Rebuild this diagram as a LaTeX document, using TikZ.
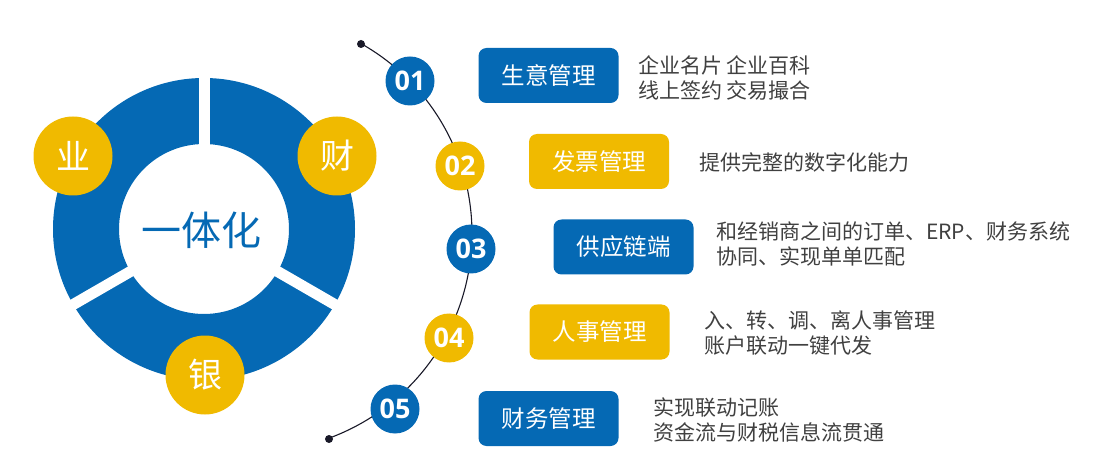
\documentclass[tikz,border=0pt]{standalone}
\usepackage{fontspec}
\setmainfont{Noto Sans CJK SC}
\newfontfamily\numfont{Open Sans}
\definecolor{mblue}{RGB}{5,105,180}
\definecolor{myellow}{RGB}{240,186,0}
\definecolor{dtext}{RGB}{64,64,64}
\definecolor{dotc}{RGB}{25,25,40}
\begin{document}
\begin{tikzpicture}[x=1pt,y=-1pt,
  numc/.style={circle, minimum size=49pt, inner sep=0pt, text=white, font=\numfont\bfseries\fontsize{27}{27}\selectfont},
  catc/.style={circle, fill=myellow, minimum size=79pt, inner sep=0pt, text=white, font=\fontsize{34}{34}\selectfont},
  tbox/.style={rounded corners=8pt, minimum width=140pt, minimum height=55pt, inner sep=0pt, text=white, font=\fontsize{23.5}{23.5}\selectfont},
  desc/.style={anchor=west, align=left, text=dtext, inner sep=0pt, font=\fontsize{21}{25}\selectfont},
  gapline/.style={white, line width=11pt},
  dotn/.style={circle, fill=dotc, minimum size=8pt, inner sep=0pt}
]
\useasboundingbox (0,0) rectangle (1111,470);
% ring
\coordinate (rc) at (204,229);
\fill[mblue, even odd rule] (rc) circle[radius=151pt] (rc) circle[radius=85pt];
\foreach \a in {-90,30,150} \draw[gapline] (rc) -- ++(\a:160);
\node[font=\fontsize{40}{40}\selectfont, text=mblue] (center) at (201,230) {一体化};
\node[catc] (ye) at (73,156) {业};
\node[catc] (cai) at (337,156) {财};
\node[catc] (yin) at (205,375) {银};
% arc
\node[dotn] (s) at (361,44) {};
\node[dotn] (e) at (329,439) {};
\draw[dotc, line width=1.1pt] plot[domain=-60.5:70, samples=120, smooth] ({254+218*cos(\x)},{233.5+218*sin(\x)});
% numbers
\node[numc, fill=mblue] (n1) at (410,81) {01};
\node[numc, fill=myellow] (n2) at (460,166) {02};
\node[numc, fill=mblue] (n3) at (471,249) {03};
\node[numc, fill=myellow] (n4) at (449,338) {04};
\node[numc, fill=mblue] (n5) at (395,409) {05};
% boxes
\node[tbox, fill=mblue] (b1) at (548.5,75.5) {生意管理};
\node[tbox, fill=myellow] (b2) at (599,161.5) {发票管理};
\node[tbox, fill=mblue] (b3) at (623.5,247) {供应链端};
\node[tbox, fill=myellow] (b4) at (599.5,332) {人事管理};
\node[tbox, fill=mblue] (b5) at (548.5,418.5) {财务管理};
% descriptions
\node[desc] (d1) at (638,78) {企业名片 企业百科\\线上签约 交易撮合};
\node[desc] (d2) at (699,162) {提供完整的数字化能力};
\node[desc] (d3) at (716,244.5) {和经销商之间的订单、ERP、财务系统\\协同、实现单单匹配};
\node[desc] (d4) at (704,333.5) {入、转、调、离人事管理\\账户联动一键代发};
\node[desc] (d5) at (653,419.5) {实现联动记账\\资金流与财税信息流贯通};
\end{tikzpicture}
\end{document}
